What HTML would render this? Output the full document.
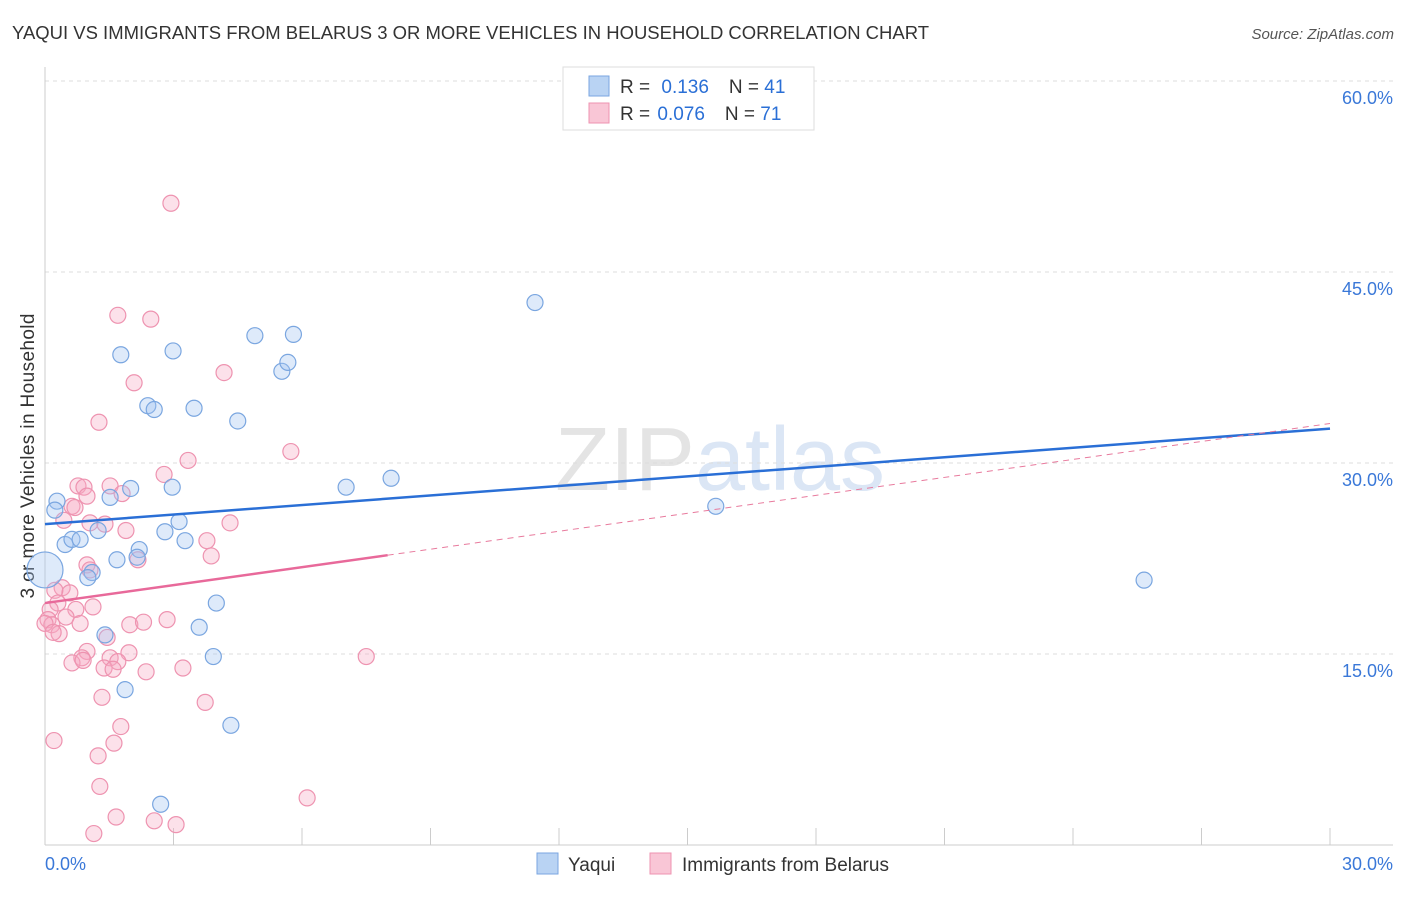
<!DOCTYPE html>
<html><head><meta charset="utf-8"><style>
body{margin:0;background:#fff;font-family:"Liberation Sans",sans-serif}
svg text{font-family:"Liberation Sans",sans-serif}
</style></head><body>
<svg id="chart" width="1406" height="892" xmlns="http://www.w3.org/2000/svg">
<text x="12" y="39" font-size="18" fill="#333" textLength="917" lengthAdjust="spacingAndGlyphs">YAQUI VS IMMIGRANTS FROM BELARUS 3 OR MORE VEHICLES IN HOUSEHOLD CORRELATION CHART</text>
<text x="1394" y="39" font-size="15" fill="#555" font-style="italic" text-anchor="end">Source: ZipAtlas.com</text>
<text x="34" y="456" font-size="19" fill="#333" text-anchor="middle" textLength="285" transform="rotate(-90 34 456)">3 or more Vehicles in Household</text>
<text x="720" y="490" font-size="90" fill="#e4e4e4" text-anchor="middle" font-family="Liberation Serif">ZIP<tspan fill="#dbe6f5" font-family="Liberation Sans">atlas</tspan></text>
<g id="grid"></g><g id="axes"></g><g id="pts"></g><g id="trend"></g>
<g>
<rect x="563" y="67" width="251" height="63" fill="#fff" stroke="#ddd"/>
<rect x="589" y="76" width="20" height="20" fill="#b9d3f3" stroke="#7aa6e0"/>
<rect x="589" y="103" width="20" height="20" fill="#f9c6d6" stroke="#ee93b0"/>
<text x="620" y="93" font-size="19" fill="#333">R = <tspan fill="#2a6fd6" dx="6">0.136</tspan><tspan dx="20" fill="#333">N = </tspan><tspan fill="#2a6fd6">41</tspan></text>
<text x="620" y="120" font-size="19" fill="#333">R = <tspan fill="#2a6fd6" dx="2">0.076</tspan><tspan dx="20" fill="#333">N = </tspan><tspan fill="#2a6fd6">71</tspan></text>
</g>
<g>
<rect x="537" y="853" width="21" height="21" fill="#b9d3f3" stroke="#7aa6e0"/>
<text x="568" y="871" font-size="19" fill="#333">Yaqui</text>
<rect x="650" y="853" width="21" height="21" fill="#f9c6d6" stroke="#ee93b0"/>
<text x="682" y="871" font-size="19" fill="#333">Immigrants from Belarus</text>
</g>
</svg>
<script>
const yTicks=[15,30,45,60];
const yTickLabels=["15.0%","30.0%","45.0%","60.0%"];
const xTickLabels=["0.0%","30.0%"];
const blueX=[0,0.28,0.23,0.47,0.63,0.82,1.24,1.1,1.0,1.52,1.77,2.0,1.68,2.2,2.15,1.4,1.87,2.4,2.55,2.99,2.97,3.13,2.8,3.27,3.48,3.6,4.0,3.93,4.5,4.34,2.7,4.9,5.53,5.67,5.8,7.03,8.08,11.44,15.66,25.66];
const blueY=[21.6,27.0,26.3,23.6,24.0,24.0,24.7,21.4,21.0,27.3,38.5,28.0,22.4,23.2,22.6,16.5,12.2,34.5,34.2,38.8,28.1,25.4,24.6,23.9,34.3,17.1,19.0,14.8,33.3,9.4,3.2,40.0,37.2,37.9,40.1,28.1,28.8,42.6,26.6,20.8];
const pinkX=[2.94,1.7,2.47,2.08,4.18,1.26,5.74,3.34,2.78,0.77,0.91,1.52,0.98,1.8,0.63,0.7,0.44,1.05,1.4,4.32,1.89,3.78,3.88,2.17,0.98,1.05,0.4,0.58,0.23,0.3,0.12,0.72,1.12,0.07,0.49,0.16,0.82,0,1.98,2.3,2.85,0.33,0.19,1.45,0.98,0.86,0.63,1.52,0.89,1.96,1.7,1.38,1.59,2.36,3.22,7.5,1.33,3.74,1.77,0.21,1.61,1.24,1.28,6.12,1.66,2.55,3.06,1.14];
const pinkY=[50.4,41.6,41.3,36.3,37.1,33.2,30.9,30.2,29.1,28.2,28.1,28.2,27.4,27.6,26.6,26.5,25.5,25.3,25.2,25.3,24.7,23.9,22.7,22.4,22.0,21.6,20.2,19.8,20.0,19.0,18.5,18.5,18.7,17.7,17.9,17.3,17.4,17.4,17.3,17.5,17.7,16.6,16.7,16.3,15.2,14.7,14.3,14.7,14.5,15.1,14.4,13.9,13.8,13.6,13.9,14.8,11.6,11.2,9.3,8.2,8.0,7.0,4.6,3.7,2.2,1.9,1.6,0.9];
const blueTrend=[25.2,32.7];
const pinkTrend=[19.0,0.47];
const NS="http://www.w3.org/2000/svg";
const X=v=>45+v/30*1285, Y=v=>845-v/60*764;
function mk(t,a,p){const e=document.createElementNS(NS,t);for(const k in a)e.setAttribute(k,a[k]);document.getElementById(p).appendChild(e);return e;}
yTicks.forEach((t,i)=>{
 const g=mk('line',{x1:45,x2:1393,y1:Y(t),y2:Y(t),stroke:'#ddd','stroke-dasharray':'4,4'},'grid');
 
 
 const l=mk('text',{x:1393,y:Y(t)+23,'font-size':18,fill:'#3a78d8','text-anchor':'end'},'axes');
 l.textContent=yTickLabels[i];
 
 
});
const ax=mk('line',{x1:45,x2:1393,y1:845,y2:845,stroke:'#ccc'},'axes');


const ay=mk('line',{x1:45,x2:45,y1:67,y2:845,stroke:'#ccc'},'axes');


for(let k=1;k<=10;k++){const t=mk('line',{x1:X(k*3),x2:X(k*3),y1:828,y2:845,stroke:'#ccc'},'axes');
 
 }
[[0,'start',45],[1,'end',1393]].forEach(([i,a,x])=>{const l=mk('text',{x:x,y:870,'font-size':18,fill:'#3a78d8','text-anchor':a},'axes');l.textContent=xTickLabels[i];
 
 });
pinkX.forEach((v,i)=>{const c=mk('circle',{cx:X(v),cy:Y(pinkY[i]),r:8,fill:'rgba(246,170,195,0.35)',stroke:'#ee93b0','stroke-width':1.2},'pts');
 
 });
blueX.forEach((v,i)=>{const c=mk('circle',{cx:X(v),cy:Y(blueY[i]),r:i==0?18:8,fill:'rgba(160,195,240,0.35)',stroke:'#7aa6e0','stroke-width':1.2},'pts');
 
 });
const bl=mk('line',{x1:X(0),y1:Y(blueTrend[0]),x2:X(30),y2:Y(blueTrend[1]),stroke:'#2a6fd6','stroke-width':2.5},'trend');


const pd=mk('line',{x1:X(8),y1:Y(pinkTrend[0]+8*pinkTrend[1]),x2:X(30),y2:Y(pinkTrend[0]+30*pinkTrend[1]),stroke:'#e87a9d','stroke-width':1,'stroke-dasharray':'6,5'},'trend');


const ps=mk('line',{x1:X(0),y1:Y(pinkTrend[0]),x2:X(8),y2:Y(pinkTrend[0]+8*pinkTrend[1]),stroke:'#e8699a','stroke-width':2.5},'trend');


</script>
</body></html>
